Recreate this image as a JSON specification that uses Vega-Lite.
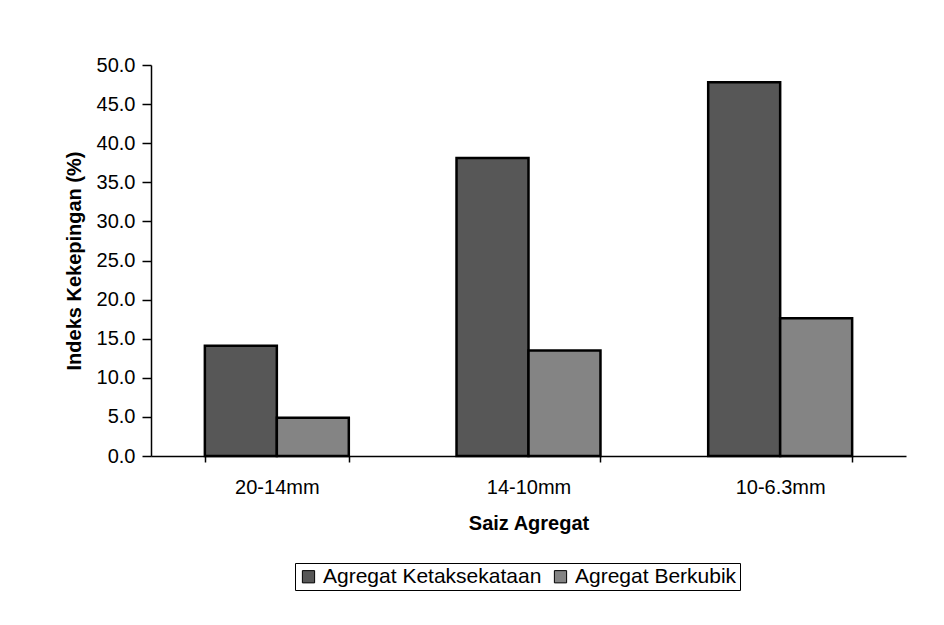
{
  "$schema": "https://vega.github.io/schema/vega-lite/v6.json",
  "width": 755,
  "height": 391,
  "autosize": "none",
  "padding": {"left": 151, "top": 65, "right": 38, "bottom": 169},
  "background": "white",
  "data": {
    "values": [
      {"size": "20-14mm", "series": "Agregat Ketaksekataan", "value": 14.1},
      {"size": "20-14mm", "series": "Agregat Berkubik", "value": 4.9},
      {"size": "14-10mm", "series": "Agregat Ketaksekataan", "value": 38.1},
      {"size": "14-10mm", "series": "Agregat Berkubik", "value": 13.5},
      {"size": "10-6.3mm", "series": "Agregat Ketaksekataan", "value": 47.8},
      {"size": "10-6.3mm", "series": "Agregat Berkubik", "value": 17.6}
    ]
  },
  "mark": {"type": "bar", "stroke": "black", "strokeWidth": 2.5},
  "encoding": {
    "x": {
      "field": "size",
      "type": "nominal",
      "sort": ["20-14mm", "14-10mm", "10-6.3mm"],
      "scale": {"paddingInner": 0.428, "paddingOuter": 0.214},
      "axis": {
        "title": "Saiz Agregat",
        "labelAngle": 0,
        "tickBand": "extent",
        "tickSize": 6,
        "labelPadding": 15,
        "titlePadding": 16
      }
    },
    "xOffset": {
      "field": "series",
      "type": "nominal",
      "sort": ["Agregat Ketaksekataan", "Agregat Berkubik"],
      "scale": {"paddingInner": 0, "paddingOuter": 0}
    },
    "y": {
      "field": "value",
      "type": "quantitative",
      "scale": {"domain": [0, 50], "nice": false},
      "axis": {
        "title": "Indeks Kekepingan (%)",
        "values": [0, 5, 10, 15, 20, 25, 30, 35, 40, 45, 50],
        "format": ".1f",
        "grid": false,
        "tickSize": 9,
        "labelPadding": 7,
        "titlePadding": 12
      }
    },
    "color": {
      "field": "series",
      "type": "nominal",
      "sort": ["Agregat Ketaksekataan", "Agregat Berkubik"],
      "scale": {"range": ["#575757", "#848484"]},
      "legend": {
        "title": null,
        "orient": "none",
        "legendX": 144,
        "legendY": 498,
        "direction": "horizontal",
        "strokeColor": "black",
        "padding": 3,
        "symbolType": "square",
        "symbolSize": 150,
        "symbolStrokeColor": "black",
        "symbolStrokeWidth": 1,
        "labelFontSize": 21,
        "labelLimit": 0,
        "labelFont": "Liberation Sans",
        "labelColor": "black",
        "columnPadding": 8,
        "fillColor": "white"
      }
    }
  },
  "config": {
    "view": {"stroke": null},
    "font": "Liberation Sans",
    "axis": {
      "domainColor": "black",
      "domainWidth": 1.5,
      "tickColor": "black",
      "tickWidth": 1.5,
      "labelColor": "black",
      "labelFont": "Liberation Sans",
      "labelFontSize": 20,
      "titleFont": "Liberation Sans",
      "titleFontSize": 20,
      "titleFontWeight": "bold",
      "titleColor": "black"
    }
  }
}
